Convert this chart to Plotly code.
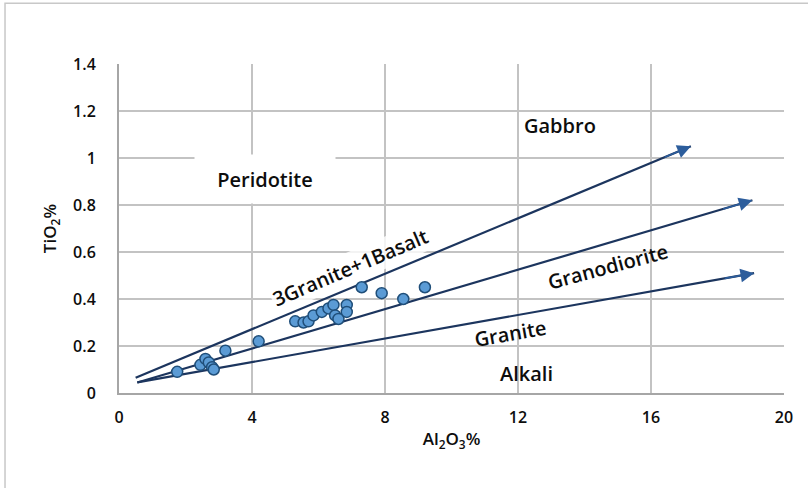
import plotly.graph_objects as go

# Sample analyses: Al2O3 (%) vs TiO2 (%)
al2o3 = [1.75, 2.45, 2.6, 2.7, 2.8, 2.85, 3.2, 4.2, 5.3, 5.55, 5.7, 5.85, 6.1,
         6.3, 6.45, 6.5, 6.6, 6.85, 6.85, 7.3, 7.9, 8.55, 9.2]
tio2 = [0.09, 0.12, 0.145, 0.13, 0.11, 0.1, 0.18, 0.22, 0.305, 0.30, 0.305,
        0.33, 0.345, 0.36, 0.375, 0.33, 0.315, 0.375, 0.345, 0.45, 0.425, 0.40, 0.45]

# Discrimination boundaries (start -> arrow tip)
bound_x0 = [0.5, 0.55, 0.55]
bound_y0 = [0.065, 0.045, 0.045]
bound_x1 = [17.2, 19.05, 19.1]
bound_y1 = [1.05, 0.82, 0.51]

# Field labels
field_text = ["Gabbro", "Peridotite", "3Granite+1Basalt", "Granodiorite", "Granite", "Alkali"]
field_x = [13.25, 4.38, 6.95, 14.7, 11.75, 12.25]
field_y = [1.14, 0.91, 0.535, 0.54, 0.255, 0.085]
field_angle = [0, 0, -23, -15, -10, 0]

x_ticks = [0, 4, 8, 12, 16, 20]
y_ticks = [0, 0.2, 0.4, 0.6, 0.8, 1, 1.2, 1.4]
y_tick_text = ["0", "0.2", "0.4", "0.6", "0.8", "1", "1.2", "1.4"]

FONT = "Open Sans"
NAVY = "#1c355e"
INK = "#0d0d0d"
WEIGHT = 600

fig = go.Figure()

for i in range(len(bound_x0)):
    fig.add_trace(go.Scatter(
        x=[bound_x0[i], bound_x1[i]], y=[bound_y0[i], bound_y1[i]],
        mode="lines", line=dict(color=NAVY, width=2.2),
        hoverinfo="skip", showlegend=False))

fig.add_trace(go.Scatter(
    x=al2o3, y=tio2, mode="markers",
    marker=dict(size=11, color="#5b9bd5", line=dict(color="#1f4e79", width=1.5)),
    showlegend=False))

annotations = []
# arrow heads at the end of each boundary
for i in range(len(bound_x0)):
    fx = bound_x0[i] + 0.95 * (bound_x1[i] - bound_x0[i])
    fy = bound_y0[i] + 0.95 * (bound_y1[i] - bound_y0[i])
    annotations.append(dict(
        x=bound_x1[i], y=bound_y1[i], ax=fx, ay=fy,
        xref="x", yref="y", axref="x", ayref="y",
        text="", showarrow=True, arrowhead=2, arrowsize=1.7,
        arrowwidth=1.6, arrowcolor="#2c5d9c", standoff=0))

for t, x, y, a in zip(field_text, field_x, field_y, field_angle):
    ann = dict(x=x, y=y, xref="x", yref="y", text=t, showarrow=False,
               textangle=a, font=dict(family=FONT, size=20, color=INK, weight=WEIGHT))
    if t == "Peridotite":
        ann.update(bgcolor="white", width=140, height=48, borderpad=0)
    elif t == "3Granite+1Basalt":
        ann.update(bgcolor="rgba(255,255,255,0.8)", borderpad=1)
    annotations.append(ann)

# frame edges at the top and left of the chart area
frame = [
    dict(type="path", xref="paper", yref="paper",
         path="M -0.1714,-0.29 L -0.1714,1.185 L 1.04,1.185",
         line=dict(color="#c8c8c8", width=1.5), layer="below"),
]

tick_font = dict(family=FONT, size=16, color=INK, weight=WEIGHT)
title_font = dict(family=FONT, size=17, color=INK, weight=WEIGHT)

fig.update_layout(
    width=808, height=488,
    margin=dict(l=119, r=24, t=64, b=95),
    paper_bgcolor="white", plot_bgcolor="white",
    font=dict(family=FONT, color=INK),
    annotations=annotations,
    shapes=frame,
    xaxis=dict(
        range=[0, 20], tickvals=x_ticks, showgrid=True,
        gridcolor="#c3c3c3", gridwidth=1.6, zeroline=False,
        showline=True, linecolor="#a6a6a6", linewidth=2,
        ticks="", ticklabelstandoff=9, tickfont=tick_font,
        title=dict(text="Al<sub>2</sub>O<sub>3</sub>%", standoff=6, font=title_font)),
    yaxis=dict(
        range=[0, 1.4], tickvals=y_ticks, ticktext=y_tick_text, showgrid=True,
        gridcolor="#c3c3c3", gridwidth=1.6, zeroline=False,
        showline=True, linecolor="#a6a6a6", linewidth=2,
        ticks="", ticklabelstandoff=18, tickfont=tick_font,
        title=dict(text="TiO<sub>2</sub>%", standoff=12, font=title_font)),
)

fig.write_html("out.html")
